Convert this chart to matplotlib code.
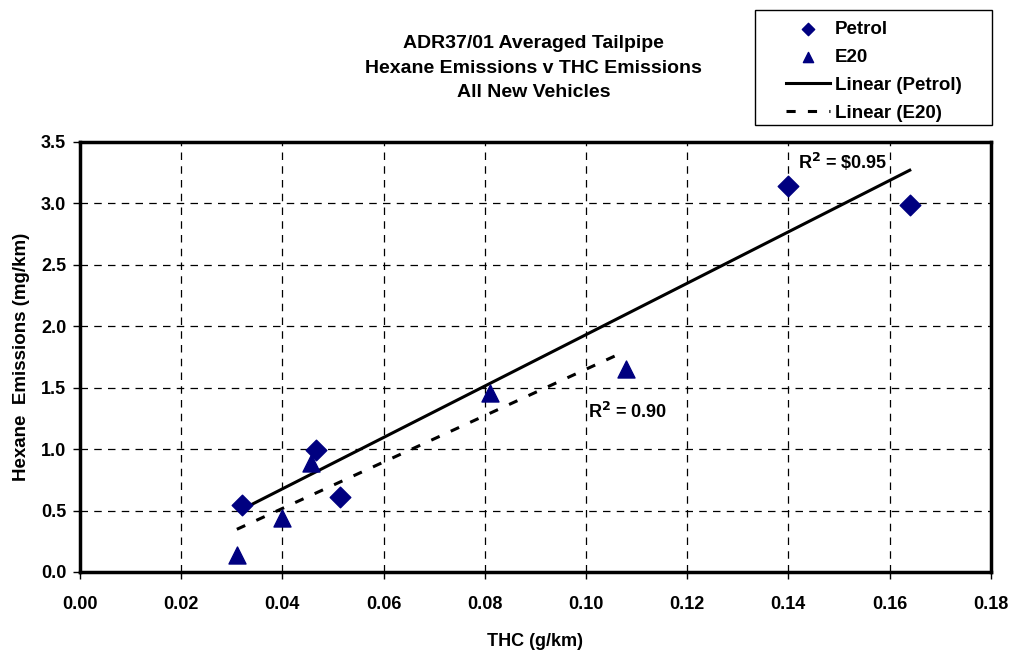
import numpy as np
import matplotlib.pyplot as plt
from matplotlib.patches import Rectangle

plt.rcParams['font.family'] = ['Liberation Sans', 'DejaVu Sans']
plt.rcParams['font.weight'] = 'bold'

# Petrol averages
petrol_thc = [0.032, 0.0466, 0.0514, 0.1399, 0.164]
petrol_hex = [0.545, 0.99, 0.61, 3.14, 2.99]

# E20 averages
e20_thc = [0.031, 0.040, 0.0456, 0.081, 0.108]
e20_hex = [0.14, 0.44, 0.89, 1.46, 1.65]

navy = '#000080'

fig = plt.figure(figsize=(10.13, 6.51), dpi=100)
ax = fig.add_axes([0.079, 0.1214, 0.899, 0.6605])

ax.scatter(petrol_thc, petrol_hex, marker='D', s=110, color=navy, label='Petrol', zorder=3)
ax.scatter(e20_thc, e20_hex, marker='^', s=150, color=navy, label='E20', zorder=3)

# linear trendlines
p = np.polyfit(petrol_thc, petrol_hex, 1)
xs = np.array([min(petrol_thc), max(petrol_thc)])
ax.plot(xs, np.polyval(p, xs), color='black', lw=2.2, label='Linear (Petrol)', zorder=2)
q = np.polyfit(e20_thc, e20_hex, 1)
xs2 = np.array([min(e20_thc), 0.107])
ax.plot(xs2, np.polyval(q, xs2), color='black', lw=2.2, ls=(0, (3, 4)), label='Linear (E20)', zorder=2)

ax.text(0.142, 3.28, r'R$^2$ = \$0.95', fontsize=13, fontweight='bold')
ax.text(0.1005, 1.25, r'R$^2$ = 0.90', fontsize=13, fontweight='bold')

ax.set_xlim(0, 0.18)
ax.set_ylim(0, 3.5)
ax.set_xticks(np.arange(0, 0.181, 0.02))
ax.set_yticks(np.arange(0, 3.51, 0.5))
ax.xaxis.set_major_formatter(plt.FormatStrFormatter('%.2f'))
ax.yaxis.set_major_formatter(plt.FormatStrFormatter('%.1f'))
ax.tick_params(labelsize=13, direction='out', length=5, width=1)
ax.tick_params(axis='x', pad=12)
ax.tick_params(axis='y', pad=5)
ax.grid(True, color='black', ls=(0, (6, 5)), lw=0.9)
for s in ax.spines.values():
    s.set_linewidth(2.5)

ax.set_xlabel('THC (g/km)', fontsize=13, fontweight='bold', labelpad=15)
ax.set_ylabel('Hexane  Emissions (mg/km)', fontsize=13.5, fontweight='bold', labelpad=8)

fig.text(0.527, 0.8955, 'ADR37/01 Averaged Tailpipe\nHexane Emissions v THC Emissions\nAll New Vehicles',
         ha='center', va='center', fontsize=14, fontweight='bold', linespacing=1.58)

# legend box drawn separately, entries without frame
fig.patches.append(Rectangle((0.7453, 0.808), 0.234, 0.1767, transform=fig.transFigure,
                             fill=False, edgecolor='black', lw=1.0))
leg = fig.legend(loc='upper left', bbox_to_anchor=(0.776, 0.968), fontsize=13.5, frameon=False,
                 handlelength=2.35, borderpad=0, borderaxespad=0, markerscale=0.6,
                 labelspacing=0.58, handletextpad=0.25)

fig.savefig('out.png', dpi=100)
